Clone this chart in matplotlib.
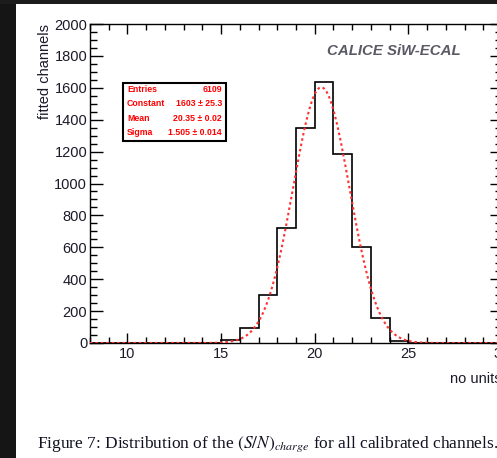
import numpy as np
import matplotlib
matplotlib.use("Agg")
import matplotlib.pyplot as plt
from matplotlib.patches import Rectangle
from matplotlib.ticker import MultipleLocator

# ---- data ----
bin_edges = list(range(8, 31))
counts = [0, 0, 0, 0, 0, 0, 0, 18, 96, 300, 720, 1346, 1634, 1183, 604, 157, 15, 3, 1, 0, 0, 0]
fit_constant = 1603
fit_mean = 20.35
fit_sigma = 1.505
stat_labels = ["Entries", "Constant", "Mean", "Sigma"]
stat_values = ["6109", "1603 \u00b1 25.3", "20.35 \u00b1 0.02", "1.505 \u00b1 0.014"]
x_ticks = [10, 15, 20, 25, 30]
y_ticks = [0, 200, 400, 600, 800, 1000, 1200, 1400, 1600, 1800, 2000]

W, H = 497, 458
fig = plt.figure(figsize=(W / 100, H / 100), dpi=100)
fig.patch.set_facecolor("white")

sans = ["Liberation Sans", "DejaVu Sans"]
ax = fig.add_axes([90 / W, (H - 343) / H, (502 - 90) / W, (343 - 24) / H])

ax.stairs(counts, bin_edges, color="black", lw=1.2, zorder=3)
xf = np.linspace(8, 30, 600)
yf = fit_constant * np.exp(-0.5 * ((xf - fit_mean) / fit_sigma) ** 2)
ax.plot(xf, yf, color="#ff3030", lw=1.5, ls=(0, (1.2, 1.4)), zorder=4)

ax.set_xlim(8, 30)
ax.set_ylim(0, 2000)
ax.set_xticks(x_ticks)
ax.set_yticks(y_ticks)
ax.xaxis.set_minor_locator(MultipleLocator(1))
ax.yaxis.set_minor_locator(MultipleLocator(50))
ax.tick_params(axis="both", which="both", direction="in", top=True, right=True,
               colors="black", width=1.0)
ax.tick_params(axis="x", which="major", length=7, pad=3, labelsize=10.5)
ax.tick_params(axis="x", which="minor", length=4)
ax.tick_params(axis="y", which="major", length=9, pad=2, labelsize=10.5)
ax.tick_params(axis="y", which="minor", length=5)
for lab in ax.get_xticklabels() + ax.get_yticklabels():
    lab.set_family(sans)
    lab.set_color("#1a1a2a")
for s in ax.spines.values():
    s.set_linewidth(1.0)

ax.set_ylabel("fitted channels", loc="top", family=sans, fontsize=10.5,
              color="#1a1a2a", labelpad=2)
ax.set_xlabel("no units", loc="right", family=sans, fontsize=10.5,
              color="#1a1a2a", labelpad=8)

ax.text(0.575, 0.915, "CALICE SiW-ECAL", transform=ax.transAxes, family=sans,
        fontsize=10.8, fontweight="bold", fontstyle="italic", color="#5a5a66",
        va="center", ha="left")

# stats box
bx0, bx1 = (123 - 90) / 412, (226 - 90) / 412
by0, by1 = (343 - 141) / 319, (343 - 83) / 319
ax.add_patch(Rectangle((bx0, by0), bx1 - bx0, by1 - by0, transform=ax.transAxes,
                       fill=True, facecolor="white", edgecolor="black", lw=1.5, zorder=5))
row_y = [89, 103.7, 118.3, 132.7]
for lab, val, ry in zip(stat_labels, stat_values, row_y):
    yy = (343 - ry) / 319
    ax.text((127 - 90) / 412, yy, lab, transform=ax.transAxes, family=sans,
            fontsize=6.3, fontweight="bold", color="#ff0000", va="center", ha="left", zorder=6)
    ax.text((222 - 90) / 412, yy, val, transform=ax.transAxes, family=sans,
            fontsize=6.3, fontweight="bold", color="#ff0000", va="center", ha="right", zorder=6)

# caption
plt.rcParams["mathtext.fontset"] = "stix"
fig.text(37 / W, (H - 448) / H,
         r"Figure 7: Distribution of the $(S/N)_{charge}$ for all calibrated channels.",
         family=["Liberation Serif", "DejaVu Serif"], fontsize=12.5, color="#111122",
         va="baseline", ha="left")

# dark screenshot border
fig.add_artist(Rectangle((0, 0), 16 / W, 1, transform=fig.transFigure,
                         facecolor="#151515", edgecolor="none", zorder=10))
fig.add_artist(Rectangle((0, 1 - 4 / H), 1, 4 / H, transform=fig.transFigure,
                         facecolor="#1c1c1c", edgecolor="none", zorder=10))

fig.savefig("out.png", dpi=100)
